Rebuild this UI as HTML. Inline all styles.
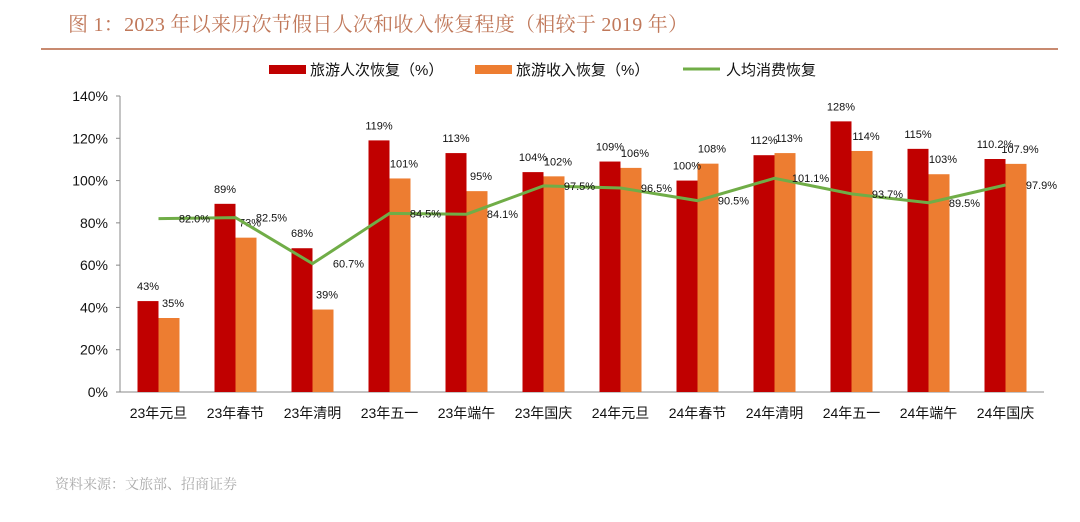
<!DOCTYPE html>
<html><head><meta charset="utf-8"><style>
body{margin:0;background:#fff;width:1080px;height:517px;overflow:hidden;font-family:"Liberation Sans","Noto Sans CJK SC",sans-serif}
</style></head><body>
<svg width="1080" height="517" xmlns="http://www.w3.org/2000/svg">
<text x="68" y="31" font-family="'Liberation Serif','Noto Serif CJK SC',serif" font-size="20" fill="#c0785a" textLength="620" lengthAdjust="spacing">图 1：2023 年以来历次节假日人次和收入恢复程度（相较于 2019 年）</text>
<line x1="41" y1="49" x2="1058" y2="49" stroke="#c88a70" stroke-width="2"/>
<g font-size="15" fill="#111">
<rect x="269" y="65" width="37" height="9" fill="#c00000"/>
<text x="310" y="75">旅游人次恢复（%）</text>
<rect x="475" y="65" width="37" height="9" fill="#ed7d31"/>
<text x="516" y="75">旅游收入恢复（%）</text>
<line x1="683" y1="69" x2="720" y2="69" stroke="#70ad47" stroke-width="3"/>
<text x="726" y="75">人均消费恢复</text>
</g>
<g id="plot"></g>
<text x="55" y="489" font-size="14" fill="#aaa" font-family="'Liberation Serif','Noto Serif CJK SC',serif">资料来源：文旅部、招商证券</text>
</svg>
<script>
const categories=["23年元旦","23年春节","23年清明","23年五一","23年端午","23年国庆","24年元旦","24年春节","24年清明","24年五一","24年端午","24年国庆"];
const visitors=[43,89,68,119,113,104,109,100,112,128,115,110.2];
const revenue=[35,73,39,101,95,102,106,108,113,114,103,107.9];
const spend=[82.0,82.5,60.7,84.5,84.1,97.5,96.5,90.5,101.1,93.7,89.5,97.9];
const visitorLabels=["43%","89%","68%","119%","113%","104%","109%","100%","112%","128%","115%","110.2%"];
const revenueLabels=["35%","73%","39%","101%","95%","102%","106%","108%","113%","114%","103%","107.9%"];
const spendLabels=["82.0%","82.5%","60.7%","84.5%","84.1%","97.5%","96.5%","90.5%","101.1%","93.7%","89.5%","97.9%"];
const yTicks=[0,20,40,60,80,100,120,140];
const NS="http://www.w3.org/2000/svg";
const g=document.getElementById('plot');
const x0=120,x1=1044,y0=392,y1=96;
const step=(x1-x0)/categories.length;
const y=v=>y0-(v/140)*(y0-y1);
const xc=i=>x0+step*(i+0.5);
function mk(t,a,txt){const e=document.createElementNS(NS,t);for(const k in a)e.setAttribute(k,a[k]);if(txt!==undefined)e.textContent=txt;g.appendChild(e);return e;}
let e=mk('line',{x1:x0,y1:y1,x2:x0,y2:y0,stroke:'#888'});


e=mk('line',{x1:x0,y1:y0,x2:x1,y2:y0,stroke:'#888'});


yTicks.forEach(t=>{
 const tl=mk('line',{x1:x0-4,y1:y(t),x2:x0,y2:y(t),stroke:'#888'});
 
 
 const tx=mk('text',{x:x0-12,y:y(t)+5,'text-anchor':'end','font-size':14,fill:'#111'},t+'%');
 
 
});
categories.forEach((c,i)=>{
 const tx=mk('text',{x:xc(i),y:418,'text-anchor':'middle','font-size':14,fill:'#111'},c);
 
 
 const bw=21;
 const r=mk('rect',{x:xc(i)-bw,y:y(visitors[i]),width:bw,height:y0-y(visitors[i]),fill:'#c00000'});
 
 
 const o=mk('rect',{x:xc(i),y:y(revenue[i]),width:bw,height:y0-y(revenue[i]),fill:'#ed7d31'});
 
 
 const l1=mk('text',{x:xc(i)-bw/2,y:y(visitors[i])-11,'text-anchor':'middle','font-size':11,fill:'#111'},visitorLabels[i]);
 
 
 const l2=mk('text',{x:xc(i)+bw/2+4,y:y(revenue[i])-11,'text-anchor':'middle','font-size':11,fill:'#111'},revenueLabels[i]);
 
 
});
const pl=mk('polyline',{points:spend.map((v,i)=>xc(i)+','+y(v)).join(' '),fill:'none',stroke:'#70ad47','stroke-width':3});


spend.forEach((v,i)=>{
 const t=mk('text',{x:xc(i)+36,y:y(v)+4,'text-anchor':'middle','font-size':11,fill:'#111'},spendLabels[i]);
 
 
});
</script>
</body></html>
